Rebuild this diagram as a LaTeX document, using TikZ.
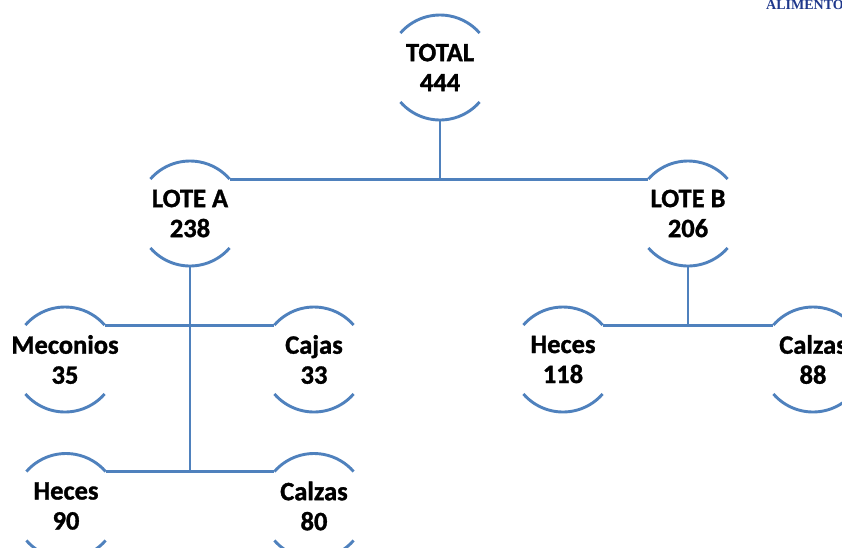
\documentclass[tikz,border=0pt]{standalone}
\usepackage{fontspec}
\setmainfont{Carlito}[BoldFeatures={FakeBold=1.2}]
\newfontfamily\hdrfont{Liberation Serif}
\begin{document}
\begin{tikzpicture}[x=1pt,y=1pt,
  lbl/.style={font=\fontsize{26.5}{30}\selectfont\bfseries, align=center, inner sep=0pt, text=black},
  conn/.style={draw=lineblue, line width=2.9pt},
  hdr/.style={font=\hdrfont\fontsize{14}{14}\selectfont\bfseries, text=hdrblue, inner sep=0pt, anchor=base west}]
\definecolor{lineblue}{RGB}{79,129,189}
\definecolor{hdrblue}{RGB}{31,56,140}
\useasboundingbox (0,0) rectangle (842,-547);
\clip (0,0) rectangle (842,-547);
\fill[white] (0,0) rectangle (842,-547);
% centers
\coordinate (T)  at (440,-67.5);
\coordinate (A)  at (190,-213.5);
\coordinate (B)  at (688,-213.5);
\coordinate (Me) at (65,-359.5);
\coordinate (Ca) at (314,-359.5);
\coordinate (Hb) at (563,-359.5);
\coordinate (Cb) at (813,-359.5);
\coordinate (Ha) at (66,-506);
\coordinate (Cz) at (314,-506);
% arcs
\foreach \n in {T,A,B,Me,Ca,Hb,Cb,Ha,Cz}{
  \draw[conn] ([shift={(139:52.5)}]\n) arc[start angle=139, end angle=41, radius=52.5];
  \draw[conn] ([shift={(221:52.5)}]\n) arc[start angle=221, end angle=319, radius=52.5];
  \coordinate (\n-tl) at ([shift={(139:52.5)}]\n);
  \coordinate (\n-tr) at ([shift={(41:52.5)}]\n);
  \coordinate (\n-b)  at ([shift={(270:52.5)}]\n);
}
% labels
\node[lbl] (tT)  at (T)  {TOTAL\\444};
\node[lbl] (tA)  at (A)  {LOTE A\\238};
\node[lbl] (tB)  at (B)  {LOTE B\\206};
\node[lbl] (tMe) at (Me) {Meconios\\35};
\node[lbl] (tCa) at (Ca) {Cajas\\33};
\node[lbl] (tHb) at (Hb) {Heces\\118};
\node[lbl] (tCb) at (Cb) {Calzas\\88};
\node[lbl] (tHa) at (Ha) {Heces\\90};
\node[lbl] (tCz) at (Cz) {Calzas\\80};
% connectors
\draw[conn] (A-tr) -- (B-tl);
\draw[conn] (T-b) -- (T-b |- A-tr);
\draw[conn] (Me-tr) -- (Ca-tl);
\draw[conn] (Ha-tr) -- (Cz-tl);
\draw[conn] (A-b) -- (A-b |- Ha-tr);
\draw[conn] (Hb-tr) -- (Cb-tl);
\draw[conn] (B-b) -- (B-b |- Hb-tr);
% header
\node[hdr] (hd) at (766,-9) {ALIMENTO};
\end{tikzpicture}
\end{document}
